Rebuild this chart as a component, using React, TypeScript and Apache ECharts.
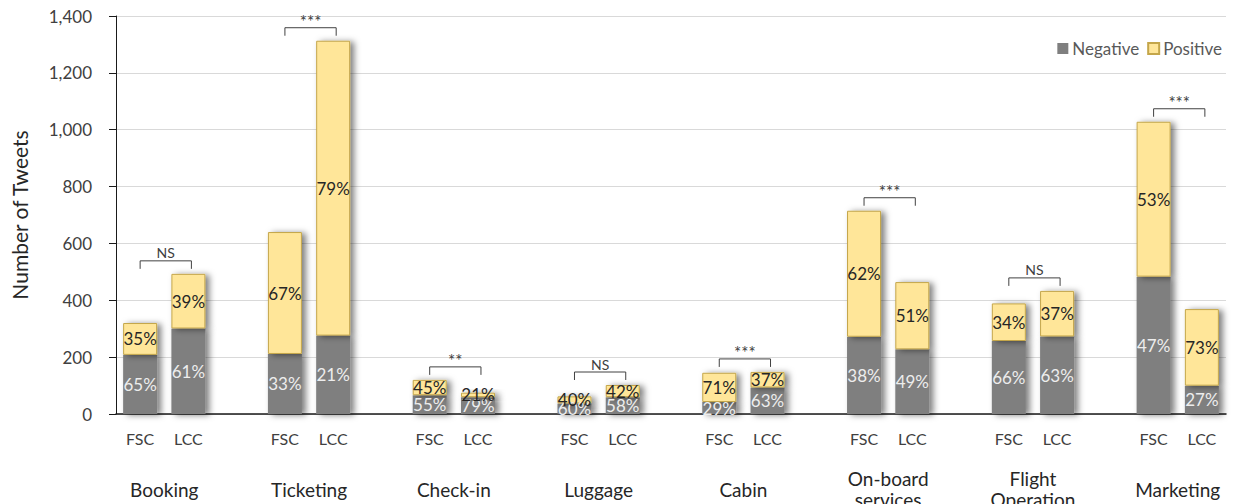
import { useEffect, useRef } from 'react';
import * as echarts from 'echarts';

// Service categories, each with an FSC and an LCC bar
const groups = ['Booking', 'Ticketing', 'Check-in', 'Luggage', 'Cabin', 'On-board\nservices', 'Flight\nOperation', 'Marketing'];
const carriers = ['FSC', 'LCC'];

// Total tweets per bar
const fscTotal = [320, 640, 120, 62, 145, 715, 389, 1028];
const lccTotal = [493, 1313, 75, 102, 148, 464, 433, 369];

// Share of negative / positive tweets (%)
const fscNegPct = [65, 33, 55, 60, 29, 38, 66, 47];
const fscPosPct = [35, 67, 45, 40, 71, 62, 34, 53];
const lccNegPct = [61, 21, 79, 58, 63, 49, 63, 27];
const lccPosPct = [39, 79, 21, 42, 37, 51, 37, 73];

// Significance of the FSC vs LCC difference
const significance = ['NS', '***', '**', 'NS', '***', '***', 'NS', '***'];

const yTicks = { min: 0, max: 1400, interval: 200 };

const FONT = 'Lato, "Noto Sans", sans-serif';
const GRAY = '#7f7f7f';
const YELLOW = '#ffe699';

// Category slots: FSC, LCC, spacer, FSC, LCC, spacer, ...
const slots: string[] = [];
groups.forEach((_, i) => {
  slots.push(carriers[0], carriers[1]);
  if (i < groups.length - 1) slots.push('');
});

function segmentData(negative: boolean) {
  const out: any[] = slots.map(() => '-');
  groups.forEach((_, i) => {
    const fp = negative ? fscNegPct[i] : fscPosPct[i];
    const lp = negative ? lccNegPct[i] : lccPosPct[i];
    out[3 * i] = { value: (fscTotal[i] * fp) / 100, pct: fp };
    out[3 * i + 1] = { value: (lccTotal[i] * lp) / 100, pct: lp };
  });
  return out;
}

const bracketData = groups.map((_, i) => [3 * i, 3 * i + 1, Math.max(fscTotal[i], lccTotal[i]), i]);
const groupLabelData = groups.map((_, i) => [3 * i, 3 * i + 1, 0, i]);

const barShadow = {
  shadowColor: 'rgba(0,0,0,0.5)',
  shadowBlur: 6,
  shadowOffsetX: 4,
  shadowOffsetY: 1,
};

const option: any = {
  animation: false,
  backgroundColor: '#ffffff',
  textStyle: { fontFamily: FONT },
  grid: { left: 116, right: 11, top: 16, bottom: 90, containLabel: false },
  legend: {
    data: ['Negative', 'Positive'],
    right: 10,
    top: 35,
    itemWidth: 11,
    itemHeight: 11,
    itemGap: 8,
    icon: 'rect',
    textStyle: { fontFamily: FONT, fontSize: 17, color: '#595959', padding: [0, 0, 0, -1] },
    itemStyle: { shadowBlur: 0, shadowOffsetX: 0, shadowOffsetY: 0 },
  },
  xAxis: {
    type: 'category',
    data: slots,
    axisLine: { lineStyle: { color: '#1a1a1a', width: 1.5 } },
    axisTick: { show: false },
    axisLabel: { interval: 0, margin: 16, fontFamily: FONT, fontSize: 16, color: '#404040' },
  },
  yAxis: {
    type: 'value',
    min: yTicks.min,
    max: yTicks.max,
    interval: yTicks.interval,
    name: 'Number of Tweets',
    nameLocation: 'middle',
    nameGap: 86,
    nameTextStyle: { fontFamily: FONT, fontSize: 21, color: '#262626' },
    axisLine: { show: true, lineStyle: { color: '#1a1a1a', width: 1 } },
    axisTick: { show: true, length: 7, lineStyle: { color: '#1a1a1a' } },
    axisLabel: {
      margin: 24,
      fontFamily: FONT,
      fontSize: 17,
      color: '#404040',
      formatter: (v: number) => v.toLocaleString('en-US'),
    },
    splitLine: { lineStyle: { color: '#d9d9d9', width: 1 } },
  },
  series: [
    {
      name: 'Negative',
      type: 'bar',
      stack: 'total',
      barWidth: 34,
      data: segmentData(true),
      itemStyle: { color: GRAY, ...barShadow },
      label: {
        show: true,
        position: 'inside',
        fontFamily: FONT,
        fontSize: 17,
        color: '#ededed',
        formatter: (p: any) => p.data.pct + '%',
      },
    },
    {
      name: 'Positive',
      type: 'bar',
      stack: 'total',
      barWidth: 34,
      data: segmentData(false),
      itemStyle: { color: YELLOW, borderColor: '#c4a64a', borderWidth: 1, ...barShadow },
      label: {
        show: true,
        position: 'inside',
        fontFamily: FONT,
        fontSize: 17,
        color: '#262626',
        formatter: (p: any) => p.data.pct + '%',
      },
    },
    {
      // Significance brackets above each pair
      type: 'custom',
      clip: false,
      silent: true,
      data: bracketData,
      encode: { x: [0, 1], y: 2 },
      renderItem: (_params: any, api: any) => {
        const a = api.coord([api.value(0), api.value(2)]);
        const b = api.coord([api.value(1), api.value(2)]);
        const y = Math.min(a[1], b[1]) - 13;
        const x1 = a[0];
        const x2 = b[0] + 3;
        const label = significance[api.value(3)];
        const isStars = label.indexOf('*') >= 0;
        return {
          type: 'group',
          children: [
            {
              type: 'polyline',
              shape: { points: [[x1, y + 8], [x1, y], [x2, y], [x2, y + 8]] },
              style: { stroke: '#404040', lineWidth: 1, fill: 'none' },
            },
            {
              type: 'text',
              x: (x1 + x2) / 2,
              y: isStars ? y - 6 : y - 8,
              style: {
                text: label,
                fontFamily: FONT,
                fontSize: isStars ? 17 : 14,
                fill: '#404040',
                align: 'center',
                verticalAlign: 'middle',
              },
            },
          ],
        };
      },
      z: 5,
    },
    {
      // Category names under each pair
      type: 'custom',
      clip: false,
      silent: true,
      data: groupLabelData,
      encode: { x: [0, 1], y: 2 },
      renderItem: (_params: any, api: any) => {
        const a = api.coord([api.value(0), 0]);
        const b = api.coord([api.value(1), 0]);
        return {
          type: 'text',
          x: (a[0] + b[0]) / 2,
          y: a[1] + 75,
          style: {
            text: groups[api.value(3)],
            fontFamily: FONT,
            fontSize: 19,
            lineHeight: 21,
            fill: '#262626',
            align: 'center',
            verticalAlign: 'middle',
          },
        };
      },
      z: 5,
    },
  ],
};

export default function App() {
  const ref = useRef<HTMLDivElement>(null);
  useEffect(() => {
    const chart = echarts.init(ref.current!, null, { renderer: 'svg' });
    chart.setOption(option);
    return () => chart.dispose();
  }, []);
  return (
    <div
      ref={ref}
      style={{ position: 'absolute', left: 0, top: 0, width: 1237, height: 504, background: '#fff' }}
    />
  );
}
